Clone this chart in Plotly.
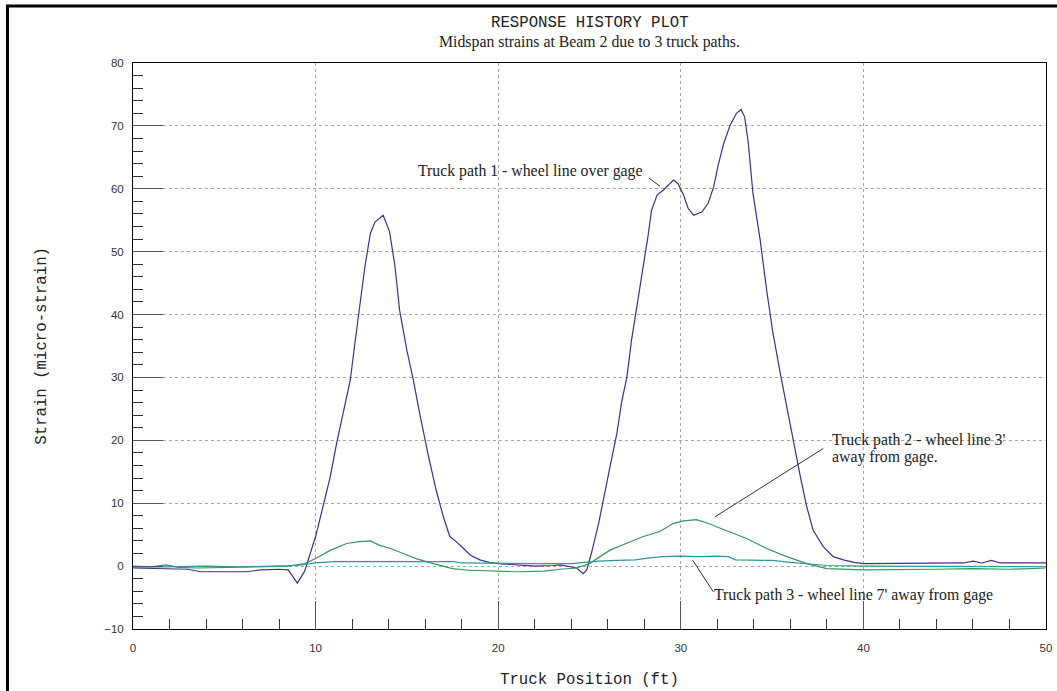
import plotly.graph_objects as go

# ---- data ----
x_path1 = [0, 1, 2, 3, 3.7, 4.5, 5.5, 6.2, 7, 8, 8.5, 9.0, 9.4, 9.7, 10.0, 10.4, 10.8, 11.15, 11.5, 11.9,
           12.15, 12.45, 12.7, 13.0, 13.25, 13.7, 14.05, 14.35, 14.6, 15.0, 15.35, 15.7, 16.15, 16.6, 17.0,
           17.35, 17.7, 18.1, 18.5, 19.0, 19.5, 20, 21, 22, 23, 23.4, 24.3, 24.65, 24.85, 25.1, 25.5, 25.85,
           26.2, 26.5, 26.75, 27.05, 27.3, 27.65, 27.95, 28.2, 28.4, 28.7, 29.05, 29.3, 29.6, 29.85, 30.15,
           30.4, 30.7, 31.15, 31.5, 31.8, 32.05, 32.35, 32.7, 33.05, 33.3, 33.5, 33.7, 33.95, 34.35, 34.7,
           35.05, 35.45, 35.8, 36.15, 36.55, 36.9, 37.25, 37.8, 38.35, 38.9, 39.5, 40, 42, 44, 45.5, 46,
           46.5, 47, 47.5, 48, 50]
y_path1 = [-0.3, -0.4, -0.5, -0.5, -0.9, -0.9, -0.8, -0.9, -0.6, -0.5, -0.6, -2.7, -0.8, 2.0, 4.7, 9.4,
           14.2, 19.5, 24.3, 29.6, 35.4, 41.8, 47.6, 52.9, 54.7, 55.8, 53.2, 47.6, 40.7, 34.3, 29.6, 24.3,
           17.9, 12.1, 7.8, 4.7, 3.9, 2.8, 1.7, 1.0, 0.6, 0.4, 0.2, 0.0, 0.1, 0.2, -0.3, -1.2, -0.6, 2.0,
           6.8, 11.6, 16.9, 21.1, 25.9, 30.1, 35.9, 42.3, 47.6, 52.4, 56.6, 59.0, 59.8, 60.6, 61.4, 60.8,
           59.0, 56.9, 55.8, 56.3, 57.7, 60.3, 63.8, 67.2, 70.1, 72.0, 72.6, 71.4, 67.2, 59.3, 51.8, 43.9,
           37.0, 30.6, 25.3, 20.0, 14.2, 9.4, 5.7, 3.1, 1.5, 1.0, 0.6, 0.4, 0.4, 0.5, 0.5, 0.8, 0.5, 0.9,
           0.5, 0.5, 0.5]

x_path2 = [0, 1, 1.8, 2.5, 3.5, 5, 6.5, 8, 8.5, 9.4, 10.0, 10.8, 11.7, 12.4, 13.0, 13.5, 14.1, 14.8, 15.5,
           16.45, 17.5, 18.5, 19, 21, 22.5, 23.4, 24.3, 25.0, 26.1, 27.0, 27.95, 28.85, 29.6, 30.15, 30.85,
           31.4, 32.5, 33.6, 34.7, 35.8, 36.9, 38.0, 40, 42, 44, 46, 48, 50]
y_path2 = [0, -0.1, 0.2, -0.2, -0.3, -0.2, -0.2, -0.1, 0.0, 0.4, 1.2, 2.5, 3.6, 3.9, 4.0, 3.3, 2.8, 2.0, 1.2,
           0.4, -0.4, -0.7, -0.7, -0.9, -0.8, -0.5, -0.3, 0.4, 2.5, 3.6, 4.7, 5.5, 6.8, 7.2, 7.4, 6.9, 5.7,
           4.4, 2.8, 1.5, 0.4, -0.4, -0.6, -0.6, -0.5, -0.4, -0.5, -0.3]

x_path3 = [0, 2, 4, 6, 8, 9, 9.5, 10, 11, 12, 13, 14, 15, 16, 17, 17.6, 18, 20, 22, 24, 24.8, 25.5, 26.5,
           27.5, 28.3, 29, 30, 31, 32, 32.6, 33, 34, 35, 36, 37, 38, 40, 45, 50]
y_path3 = [-0.2, -0.1, 0, -0.1, 0, 0.1, 0.3, 0.5, 0.7, 0.7, 0.8, 0.7, 0.7, 0.8, 0.8, 0.7, 0.5, 0.4, 0.4, 0.4,
           0.6, 0.8, 0.9, 1.0, 1.3, 1.5, 1.6, 1.5, 1.6, 1.5, 1.0, 1.0, 0.9, 0.6, 0.3, 0.1, 0.0, -0.1, -0.1]

title_text = "RESPONSE HISTORY PLOT"
subtitle_text = "Midspan strains at Beam 2 due to 3 truck paths."
x_title = "Truck Position (ft)"
y_title = "Strain (micro-strain)"

# annotation texts: (text, x, y)
notes = [
    ("Truck path 1 - wheel line over gage", 15.55, 62.85),
    ("Truck path 2 - wheel line 3'", 38.2, 20.03),
    ("away from gage.", 38.2, 17.38),
    ("Truck path 3 - wheel line 7' away from gage", 31.78, -4.61),
]
# leader lines: (x0, y0, x1, y1)
leaders = [
    (28.26, 61.7, 28.86, 60.4),
    (37.8, 18.7, 31.87, 7.84),
    (31.78, -4.09, 30.65, 0.95),
]

col1 = "#343491"
col2 = "#36975c"
col3 = "#2e9898"

fig = go.Figure()
fig.add_trace(go.Scatter(x=x_path1, y=y_path1, mode="lines", line=dict(color=col1, width=1.2), showlegend=False))
fig.add_trace(go.Scatter(x=x_path2, y=y_path2, mode="lines", line=dict(color=col2, width=1.2), showlegend=False))
fig.add_trace(go.Scatter(x=x_path3, y=y_path3, mode="lines", line=dict(color=col3, width=1.2), showlegend=False))

tickfont = dict(family="Liberation Sans, Arial, sans-serif", size=11.5, color="#333333")
gridstyle = dict(showgrid=True, gridcolor="#a8a8a8", gridwidth=1, griddash="3px,3px")

fig.update_xaxes(range=[0, 50], dtick=10, tick0=0, ticks="inside", ticklen=28, tickcolor="#555555",
                 tickwidth=1, showline=True, linecolor="black", linewidth=1, mirror=True,
                 zeroline=False, tickfont=tickfont, ticklabelstandoff=8,
                 minor=dict(dtick=2, ticks="inside", ticklen=10, tickcolor="#333333", showgrid=False),
                 **gridstyle)
fig.update_yaxes(range=[-10, 80], dtick=10, tick0=0, ticks="inside", ticklen=30, tickcolor="#555555",
                 tickwidth=1, showline=True, linecolor="black", linewidth=1, mirror=True,
                 zeroline=False, tickfont=tickfont, ticklabelstandoff=6,
                 minor=dict(dtick=2, ticks="inside", ticklen=10, tickcolor="#333333", showgrid=False),
                 **gridstyle)

serif = dict(family="Liberation Serif, Times New Roman, serif", size=15.8, color="#222222")
mono = dict(family="Liberation Mono, Courier New, monospace", size=15.7, color="#222222")

annotations = [
    dict(text=title_text, xref="paper", yref="paper", x=0.5, y=1.0712, xanchor="center", yanchor="middle",
         showarrow=False, font=mono),
    dict(text=subtitle_text, xref="paper", yref="paper", x=0.5, y=1.0376, xanchor="center", yanchor="middle",
         showarrow=False, font=serif),
    dict(text=x_title, xref="paper", yref="paper", x=0.5, y=-0.0901, xanchor="center", yanchor="middle",
         showarrow=False, font=mono),
    dict(text=y_title, xref="paper", yref="paper", x=-0.1, y=0.5, xanchor="center", yanchor="middle",
         textangle=-90, showarrow=False, font=mono),
]
for t, ax_, ay_ in notes:
    annotations.append(dict(text=t, x=ax_, y=ay_, xref="x", yref="y", xanchor="left", yanchor="middle",
                            showarrow=False, borderpad=0, font=serif))

shapes = []
for x0, y0, x1, y1 in leaders:
    shapes.append(dict(type="line", xref="x", yref="y", x0=x0, y0=y0, x1=x1, y1=y1,
                       line=dict(color="#333333", width=1)))
# outer frame
shapes.append(dict(type="rect", xref="paper", yref="paper", x0=-0.1375, y0=-0.2, x1=1.03, y1=1.1007,
                   line=dict(color="black", width=3), fillcolor="rgba(0,0,0,0)", layer="above"))

fig.update_layout(width=1057, height=691, margin=dict(l=133, r=11, t=63, b=62, autoexpand=False),
                  paper_bgcolor="white", plot_bgcolor="white",
                  annotations=annotations, shapes=shapes, showlegend=False)

fig.write_html("out.html", config={"displayModeBar": False})
